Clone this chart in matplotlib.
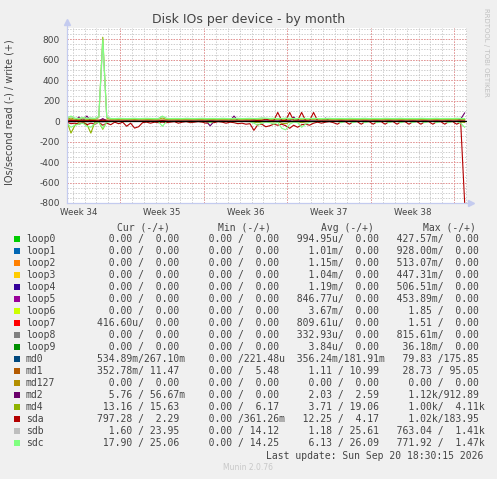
import numpy as np
import matplotlib
matplotlib.use("Agg")
import matplotlib.pyplot as plt

# time axis: one sample every 8 hours, in days from the left edge of the graph
n_points = 101
days = np.arange(n_points) / 3.0
week_starts = [4.47, 11.47, 18.47, 25.47, 32.47]
week_labels = ["Week 34", "Week 35", "Week 36", "Week 37", "Week 38"]
week_label_pos = [0.97, 7.97, 14.97, 21.97, 28.97]
y_ticks = [-800, -600, -400, -200, 0, 200, 400, 600, 800]

# read (drawn negative) / write (drawn positive) rates, IOs per second
sda_read = [
    10, 25, 20, 30, 15, 35, 20, 30, 10, 40,
    20, 35, 10, 25, 10, 50, 20, 68, 55, 15,
    10, 20, 10, 15, 10, 15, 10, 5, 20, 10,
    5, 15, 10, 5, 10, 20, 10, 15, 5, 10,
    20, 10, 15, 25, 20, 30, 25, 90, 35, 30,
    55, 45, 30, 40, 30, 45, 70, 40, 60, 35,
    30, 40, 20, 10, 20, 10, 5, 15, 30, 5,
    5, 30, 5, 5, 30, 5, 5, 30, 5, 5,
    30, 5, 5, 30, 5, 5, 30, 5, 5, 30,
    5, 5, 30, 5, 5, 30, 5, 5, 30, 10, 797.28]
sda_write = [
    4, 5, 6, 4, 5, 4, 6, 5, 4, 8,
    5, 4, 4, 3, 5, 4, 4, 6, 4, 4,
    3, 4, 4, 5, 4, 3, 4, 4, 5, 4,
    4, 3, 4, 4, 5, 4, 3, 4, 4, 5,
    4, 4, 3, 5, 4, 6, 5, 10, 4, 5,
    20, 6, 5, 85, 6, 5, 85, 6, 5, 85,
    6, 5, 85, 5, 4, 6, 4, 4, 3, 4,
    4, 5, 3, 4, 4, 3, 4, 5, 4, 4,
    3, 4, 4, 5, 4, 3, 4, 4, 4, 5,
    4, 3, 4, 4, 5, 4, 4, 3, 4, 4, 2.29]
sdc_read = [
    20, 60, 40, 30, 20, 50, 60, 25, 10, 70,
    10, 5, 3, 4, 3, 5, 3, 4, 3, 3,
    4, 3, 3, 5, 50, 4, 3, 3, 4, 3,
    3, 5, 3, 3, 4, 3, 15, 3, 3, 4,
    3, 3, 4, 5, 3, 4, 5, 20, 40, 20,
    10, 15, 30, 10, 70, 85, 30, 10, 15, 60,
    30, 10, 5, 3, 4, 3, 3, 4, 3, 15,
    3, 3, 15, 3, 3, 15, 3, 3, 15, 3,
    3, 15, 3, 3, 15, 3, 3, 15, 3, 3,
    15, 3, 3, 15, 3, 3, 15, 3, 3, 20, 60]
sdc_write = [
    30, 50, 28, 26, 35, 27, 30, 26, 45, 800,
    40, 26, 25, 27, 26, 25, 26, 27, 25, 26,
    27, 26, 25, 26, 50, 27, 25, 26, 26, 25,
    27, 26, 25, 26, 27, 25, 26, 26, 25, 27,
    26, 25, 26, 27, 25, 26, 27, 25, 26, 30,
    28, 26, 27, 25, 26, 28, 27, 25, 26, 27,
    26, 25, 27, 26, 25, 26, 27, 25, 26, 26,
    25, 27, 26, 25, 26, 27, 25, 26, 26, 25,
    27, 26, 25, 26, 27, 25, 26, 26, 25, 27,
    26, 25, 26, 27, 25, 26, 26, 25, 27, 26, 25.06]
sdb_read = [
    3, 8, 5, 4, 3, 6, 8, 4, 2, 10,
    2, 1, 1, 1, 1, 2, 1, 1, 1, 1,
    1, 1, 1, 1, 5, 1, 1, 1, 1, 1,
    1, 1, 1, 1, 1, 1, 2, 1, 1, 1,
    1, 1, 1, 1, 1, 1, 1, 3, 5, 2,
    1, 2, 3, 1, 6, 8, 3, 1, 2, 5,
    3, 1, 1, 1, 1, 1, 1, 1, 1, 2,
    1, 1, 2, 1, 1, 2, 1, 1, 2, 1,
    1, 2, 1, 1, 2, 1, 1, 2, 1, 1,
    2, 1, 1, 2, 1, 1, 2, 1, 1, 2, 1.60]
sdb_write = [
    28, 45, 27, 25, 33, 26, 29, 25, 40, 760,
    38, 25, 24, 26, 25, 24, 25, 26, 24, 25,
    26, 25, 24, 25, 45, 26, 24, 25, 25, 24,
    26, 25, 24, 25, 26, 24, 25, 25, 24, 26,
    25, 24, 25, 26, 24, 25, 26, 24, 25, 29,
    27, 25, 26, 24, 25, 27, 26, 24, 25, 26,
    25, 24, 26, 25, 24, 25, 26, 24, 25, 25,
    24, 26, 25, 24, 25, 26, 24, 25, 25, 24,
    26, 25, 24, 25, 26, 24, 25, 25, 24, 26,
    25, 24, 25, 26, 24, 25, 25, 24, 26, 25, 23.95]
md4_read = [
    5, 117, 40, 10, 5, 30, 117, 10, 5, 80,
    5, 2, 3, 2, 2, 3, 2, 2, 3, 2,
    2, 3, 2, 2, 5, 2, 3, 2, 2, 3,
    2, 2, 3, 2, 2, 3, 8, 2, 2, 3,
    2, 2, 3, 2, 2, 3, 4, 10, 15, 8,
    5, 6, 8, 5, 20, 25, 8, 5, 6, 15,
    8, 5, 3, 2, 2, 3, 2, 2, 3, 5,
    2, 2, 5, 2, 3, 5, 2, 2, 5, 3,
    2, 5, 2, 3, 5, 2, 2, 5, 3, 2,
    5, 2, 2, 5, 3, 2, 5, 2, 3, 8, 13.16]
md4_write = [
    20, 30, 19, 18, 25, 19, 20, 18, 35, 820,
    30, 19, 18, 19, 20, 18, 19, 19, 18, 20,
    19, 18, 19, 20, 30, 19, 18, 19, 19, 18,
    20, 19, 18, 19, 20, 18, 19, 19, 18, 20,
    19, 18, 19, 20, 18, 19, 20, 18, 19, 22,
    20, 19, 20, 18, 19, 21, 20, 18, 19, 20,
    19, 18, 20, 19, 18, 19, 20, 18, 19, 19,
    18, 20, 19, 18, 19, 20, 18, 19, 19, 18,
    20, 19, 18, 19, 20, 18, 19, 19, 18, 20,
    19, 18, 19, 20, 18, 19, 19, 18, 20, 19, 15.63]
md2_read = [
    2, 5, 3, 2, 2, 4, 3, 2, 2, 6,
    2, 1, 2, 1, 1, 2, 1, 1, 2, 1,
    1, 2, 1, 1, 2, 1, 1, 2, 1, 1,
    2, 1, 1, 2, 1, 1, 46, 1, 2, 1,
    1, 2, 1, 1, 2, 1, 1, 3, 2, 1,
    2, 1, 3, 1, 2, 4, 1, 2, 3, 1,
    2, 1, 1, 2, 1, 1, 2, 1, 1, 2,
    1, 1, 2, 1, 1, 2, 1, 1, 2, 1,
    1, 2, 1, 1, 2, 1, 1, 2, 1, 1,
    2, 1, 1, 2, 1, 1, 2, 1, 1, 3, 5.76]
md2_write = [
    2, 3, 2, 40, 3, 50, 2, 3, 2, 25,
    2, 2, 3, 2, 2, 3, 2, 2, 3, 2,
    2, 3, 2, 2, 3, 2, 2, 3, 2, 2,
    3, 2, 2, 3, 2, 2, 3, 2, 2, 3,
    2, 2, 50, 2, 2, 3, 2, 2, 3, 2,
    2, 3, 2, 2, 3, 2, 2, 40, 2, 2,
    3, 2, 2, 3, 2, 30, 2, 2, 3, 2,
    2, 3, 2, 2, 3, 2, 2, 3, 2, 2,
    3, 2, 2, 3, 2, 2, 3, 2, 2, 3,
    2, 2, 3, 2, 2, 3, 2, 2, 3, 20, 80]
md1_read = [
    2, 3, 2, 1, 2, 1, 2, 1, 1, 3,
    1, 1, 1, 1, 1, 2, 1, 2, 1, 1,
    1, 1, 1, 1, 1, 1, 1, 1, 1, 1,
    1, 1, 1, 1, 1, 1, 1, 1, 1, 1,
    1, 1, 1, 1, 1, 1, 1, 2, 1, 1,
    2, 1, 1, 1, 1, 2, 1, 1, 1, 1,
    1, 1, 1, 1, 1, 1, 1, 1, 1, 1,
    1, 1, 1, 1, 1, 1, 1, 1, 1, 1,
    1, 1, 1, 1, 1, 1, 1, 1, 1, 1,
    1, 1, 1, 1, 1, 1, 1, 1, 1, 1, 0.35]
md1_write = [
    12, 14, 11, 13, 12, 11, 13, 12, 11, 15,
    11, 10, 11, 12, 11, 10, 11, 12, 11, 10,
    11, 12, 11, 10, 11, 12, 11, 10, 11, 12,
    11, 10, 11, 12, 11, 10, 11, 12, 11, 10,
    11, 12, 11, 10, 11, 12, 11, 10, 11, 12,
    11, 10, 11, 12, 11, 10, 11, 12, 11, 10,
    11, 12, 11, 10, 11, 12, 11, 10, 11, 12,
    11, 10, 11, 12, 11, 10, 11, 12, 11, 10,
    11, 12, 11, 10, 11, 12, 11, 10, 11, 12,
    11, 10, 11, 12, 11, 10, 11, 12, 11, 10, 11.47]

# legend table
names = ["loop0", "loop1", "loop2", "loop3", "loop4", "loop5", "loop6", "loop7", "loop8",
         "loop9", "md0", "md1", "md127", "md2", "md4", "sda", "sdb", "sdc"]
colors = ["#00CC00", "#0066B3", "#FF8000", "#FFCC00", "#330099", "#990099", "#CCFF00",
          "#FF0000", "#808080", "#008F00", "#00487D", "#B35A00", "#B38F00", "#6B006B",
          "#8FB300", "#B30000", "#BEBEBE", "#80FF80"]
cur_vals = [("0.00", "0.00"), ("0.00", "0.00"), ("0.00", "0.00"), ("0.00", "0.00"),
            ("0.00", "0.00"), ("0.00", "0.00"), ("0.00", "0.00"), ("416.60u", "0.00"),
            ("0.00", "0.00"), ("0.00", "0.00"), ("534.89m", "267.10m"), ("352.78m", "11.47"),
            ("0.00", "0.00"), ("5.76", "56.67m"), ("13.16", "15.63"), ("797.28", "2.29"),
            ("1.60", "23.95"), ("17.90", "25.06")]
min_vals = [("0.00", "0.00")] * 10 + [("0.00", "221.48u"), ("0.00", "5.48"), ("0.00", "0.00"),
            ("0.00", "0.00"), ("0.00", "6.17"), ("0.00", "361.26m"), ("0.00", "14.12"),
            ("0.00", "14.25")]
avg_vals = [("994.95u", "0.00"), ("1.01m", "0.00"), ("1.15m", "0.00"), ("1.04m", "0.00"),
            ("1.19m", "0.00"), ("846.77u", "0.00"), ("3.67m", "0.00"), ("809.61u", "0.00"),
            ("332.93u", "0.00"), ("3.84u", "0.00"), ("356.24m", "181.91m"), ("1.11", "10.99"),
            ("0.00", "0.00"), ("2.03", "2.59"), ("3.71", "19.06"), ("12.25", "4.17"),
            ("1.18", "25.61"), ("6.13", "26.09")]
max_vals = [("427.57m", "0.00"), ("928.00m", "0.00"), ("513.07m", "0.00"), ("447.31m", "0.00"),
            ("506.51m", "0.00"), ("453.89m", "0.00"), ("1.85", "0.00"), ("1.51", "0.00"),
            ("815.61m", "0.00"), ("36.18m", "0.00"), ("79.83", "175.85"), ("28.73", "95.05"),
            ("0.00", "0.00"), ("1.12k", "912.89"), ("1.00k", "4.11k"), ("1.02k", "183.95"),
            ("763.04", "1.41k"), ("771.92", "1.47k")]


def fmt_one(v):
    if v[-1].isalpha():
        return "%6s%s" % (v[:-1], v[-1])
    return "%6s " % v


def fmt_pair(p):
    return fmt_one(p[0]) + "/" + fmt_one(p[1])


W, H = 497, 479
fig = plt.figure(figsize=(W / 100, H / 100), dpi=100, facecolor="#F0F0F0")
ax = fig.add_axes([67 / W, 1 - 203 / H, 400 / W, 175 / H], facecolor="white")

x_max = 33.53
y_min, y_max = -800, 910
ax.set_xlim(0, x_max)
ax.set_ylim(y_min, y_max)

# grid
dot = (0, (1.4, 1.4))
for d in range(34):
    ax.axvline(d + 0.47, color="#cccccc", lw=0.7, ls=dot, zorder=0)
for v in range(-800, 901, 50):
    ax.axhline(v, color="#cccccc", lw=0.7, ls=dot, zorder=0)
for w in week_starts:
    ax.axvline(w, color="#e89090", lw=0.7, ls=dot, zorder=0.5)
for v in y_ticks:
    ax.axhline(v, color="#e89090", lw=0.7, ls=dot, zorder=0.5)

series = [
    ("md1", md1_read, md1_write),
    ("md2", md2_read, md2_write),
    ("md4", md4_read, md4_write),
    ("sda", sda_read, sda_write),
    ("sdb", sdb_read, sdb_write),
    ("sdc", sdc_read, sdc_write),
]
for k, (name, rd, wr) in enumerate(series):
    c = colors[names.index(name)]
    ax.plot(days, -np.array(rd), color=c, lw=0.8, zorder=2 + k)
    ax.plot(days, np.array(wr), color=c, lw=0.8, zorder=2 + k)

ax.axhline(0, color="black", lw=0.9, zorder=20)

for s in ax.spines.values():
    s.set_visible(False)
axis_c = "#c4cbef"
ax.plot([0, 0], [y_min, y_max + 40], color=axis_c, lw=0.9, clip_on=False, zorder=21)
ax.plot([0, x_max + 0.2], [y_min, y_min], color=axis_c, lw=0.9, clip_on=False, zorder=21)
ax.plot([0], [y_max + 60], marker="^", color=axis_c, ms=4, clip_on=False, zorder=21)
ax.plot([x_max + 0.3], [y_min], marker=">", color=axis_c, ms=4, clip_on=False, zorder=21)

ax.set_yticks(y_ticks)
ax.set_yticklabels([str(v) for v in y_ticks])
ax.set_xticks(week_label_pos)
ax.set_xticklabels(week_labels)
ax.tick_params(axis="y", length=0, pad=5, labelsize=6.5, labelcolor="#444444")
ax.tick_params(axis="x", length=0, pad=3.5, labelsize=6.2, labelcolor="#444444")

fig.text(249 / W, 1 - 19 / H, "Disk IOs per device - by month", ha="center", va="center",
         fontsize=9.0, color="#444444")
fig.text(10 / W, 1 - 112 / H, "IOs/second read (-) / write (+)", ha="center", va="center",
         rotation=90, fontsize=7, color="#444444")
fig.text(486 / W, 1 - 52 / H, "RRDTOOL / TOBI OETIKER", ha="center", va="center",
         rotation=270, fontsize=5, color="#c0c0c0")

# legend table
mono = "DejaVu Sans Mono"
tc = "#444444"
for hx, ht in zip([116.7, 218.3, 320.7, 422.7], ["Cur (-/+)", "Min (-/+)", "Avg (-/+)", "Max (-/+)"]):
    fig.text(hx / W, 1 - 228 / H, ht, family=mono, fontsize=7, color=tc, va="center")
for i, nm in enumerate(names):
    yc = 239.3 + 12.0 * i
    fig.patches.append(plt.Rectangle((14 / W, 1 - (yc + 3) / H), 6 / W, 6 / H,
                                     transform=fig.transFigure, facecolor=colors[i],
                                     edgecolor="none"))
    fig.text(26 / W, 1 - yc / H, nm, family=mono, fontsize=7, color=tc, va="center")
    row = "  ".join(fmt_pair(p) for p in (cur_vals[i], min_vals[i], avg_vals[i], max_vals[i]))
    fig.text(97.4 / W, 1 - yc / H, row, family=mono, fontsize=7, color=tc, va="center")

fig.text(483.5 / W, 1 - 455.7 / H, "Last update: Sun Sep 20 18:30:15 2026", family=mono,
         fontsize=7, color=tc, va="center", ha="right")
fig.text(248 / W, 1 - 467.7 / H, "Munin 2.0.76", fontsize=5.5, color="#c8c8c8",
         va="center", ha="center")

fig.savefig("out.png", dpi=100, facecolor=fig.get_facecolor())
